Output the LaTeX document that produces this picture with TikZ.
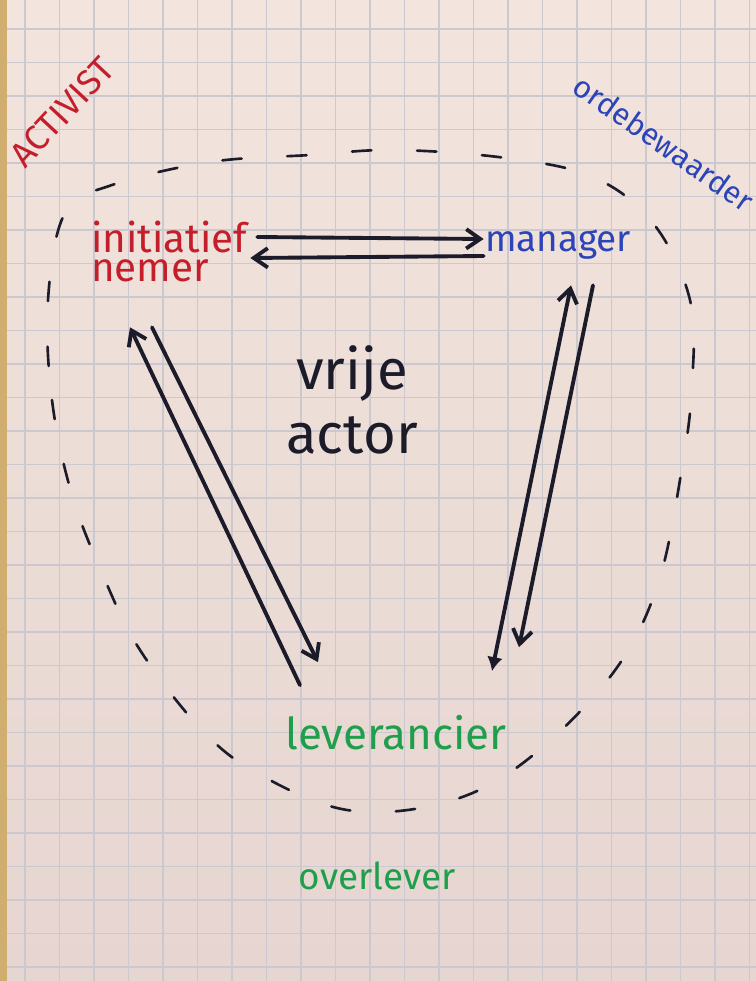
\documentclass[tikz,border=0pt]{standalone}
\usepackage{fontspec}
\setmainfont{Fira Sans}
\definecolor{inkred}{HTML}{C41E2B}
\definecolor{inkblue}{HTML}{2B45B8}
\definecolor{inkgreen}{HTML}{1F9E4C}
\definecolor{inkblack}{HTML}{1B1B2A}
\definecolor{papertop}{HTML}{F3E4DD}
\definecolor{papermid}{HTML}{F1EDE4}
\definecolor{paperbot}{HTML}{E6D5D0}
\definecolor{gridgray}{HTML}{CBC8D0}
\definecolor{edgegold}{HTML}{D0AE70}
\usetikzlibrary{arrows.meta, positioning, calc}

\begin{document}
\begin{tikzpicture}[x=0.02cm, y=-0.02cm,
  word/.style={inner sep=0pt, align=center},
  arr/.style={draw=inkblack, line width=2.2pt, line cap=round, -{Straight Barb[length=8pt, width=11pt]}},
  ring/.style={draw=inkblack, line width=1.5pt, line cap=round, dash pattern=on 11pt off 26pt}]
\useasboundingbox (0,0) rectangle (756,981);
% paper
\shade[top color=papertop, middle color=papermid, bottom color=paperbot] (0,0) rectangle (756,981);
\foreach \i in {0,...,21} \draw[gridgray, line width=0.7pt] ({25+34.5*\i},0) -- ({25+34.5*\i},981);
\foreach \i in {0,...,28} \draw[gridgray, line width=0.7pt] (0,{29+33.5*\i}) -- (756,{29+33.5*\i});
\fill[edgegold] (0,0) rectangle (7,981);

% roles
\node[word, minimum width=3.16cm, minimum height=1.86cm, text=inkred, align=left, font=\fontsize{23}{17}\selectfont] (init) at (169,251.5) {initiatief\\nemer};
\node[word, minimum width=2.8cm, minimum height=1.2cm, text=inkblue, font=\fontsize{21}{22}\selectfont] (mgr) at (558,245) {manager};
\node[word, minimum width=2.2cm, minimum height=2.24cm, text=inkblack, font=\fontsize{32}{36}\selectfont] (vrij) at (352,400) {vrije\\actor};
\node[word, minimum width=4.46cm, minimum height=1.14cm, text=inkgreen, font=\fontsize{25}{26}\selectfont] (lev) at (396,733) {leverancier};
\node[word, minimum height=0.96cm, text=inkgreen, font=\fontsize{21}{23}\selectfont, below=1.8cm of lev, xshift=-0.38cm] (over) {overlever};
\node[word, text=inkred, rotate=47, font=\fontsize{20}{22}\selectfont] (act) at (62,112) {ACTIVIST};
\node[word, text=inkblue, rotate=-35, font=\fontsize{17.5}{20}\selectfont] (orde) at (664,143) {ordebewaarder};

% circle of roles
\draw[ring] plot[smooth cycle, tension=0.6] coordinates {(48,300) (52,400) (72,495) (105,580) (140,650) (200,728) (257,773) (347,810) (443,803) (523,763) (610,677) (657,587) (682,468) (692,385) (690,300) (653,223) (593,177) (506,158) (395,150) (310,155) (210,162) (112,185) (65,213)};

% arrows
\draw[arr] ($(init.east)+(9,-14.5)$) -- ($(mgr.west)+(-1,-6)$);
\draw[arr] ($(mgr.west)+(-1,11)$) -- ($(init.east)+(2,6.5)$);
\draw[arr] ($(lev.north)+(-96,-19)$) -- ($(init.south)+(-39,29)$);
\draw[arr] ($(init.south)+(-17,29)$) -- ($(lev.north)+(-78,-42)$);
\draw[arr, {Latex[length=8pt, width=9pt]}-{Straight Barb[length=8pt, width=11pt]}] ($(lev.north)+(96,-33)$) -- ($(mgr.south)+(13,10)$);
\draw[arr] ($(mgr.south)+(35,10)$) -- ($(lev.north)+(123,-57)$);
\end{tikzpicture}
\end{document}
